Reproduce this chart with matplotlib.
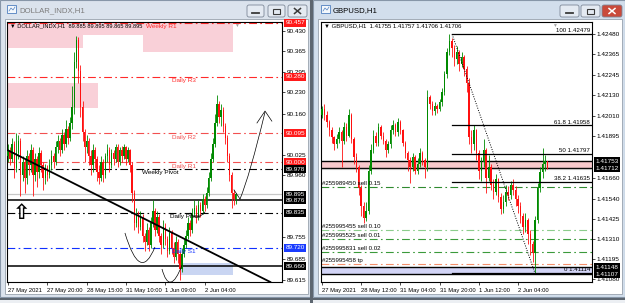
import numpy as np
import matplotlib.pyplot as plt
import matplotlib.transforms as mtrans
from matplotlib.patches import Rectangle, FancyBboxPatch, PathPatch
from matplotlib.path import Path

plt.rcParams['font.family'] = ['Liberation Sans', 'DejaVu Sans']

# ---------------- DOLLAR_INDX, H1 ----------------
usd_first_open = 90.020
usd_close = [90.040, 90.010, 90.060, 89.980, 90.030, 90.070, 89.960, 90.000, 89.950, 90.020,
             89.990, 90.040, 89.960, 90.010, 89.970, 90.030, 89.990, 89.950, 89.980, 89.960,
             89.990, 90.020, 90.000, 90.050, 90.070, 90.040, 90.090, 90.060, 90.110, 90.080,
             90.130, 90.180, 90.330, 90.400, 90.300, 90.180, 90.100, 90.050, 90.070, 90.020,
             89.990, 90.040, 90.010, 89.970, 89.950, 90.000, 89.960, 90.020, 90.040, 89.990,
             90.030, 90.010, 90.050, 90.000, 90.040, 90.020, 90.050, 90.010, 90.040, 89.990,
             89.900, 89.800, 89.830, 89.790, 89.820, 89.760, 89.740, 89.780, 89.730, 89.800,
             89.840, 89.780, 89.820, 89.760, 89.730, 89.790, 89.750, 89.710, 89.770, 89.720,
             89.690, 89.740, 89.700, 89.650, 89.700, 89.730, 89.760, 89.800, 89.780, 89.830,
             89.850, 89.820, 89.860, 89.840, 89.880, 89.860, 89.900, 89.950, 90.010, 90.060,
             90.130, 90.190, 90.150, 90.170, 90.120, 90.080, 90.020, 89.960, 89.900, 89.880, 89.895]
usd_high = [90.060, 90.050, 90.080, 90.070, 90.095, 90.090, 90.080, 90.020, 90.010, 90.040,
            90.030, 90.060, 90.050, 90.030, 90.020, 90.050, 90.040, 90.000, 89.995, 89.990,
            90.010, 90.040, 90.030, 90.070, 90.090, 90.080, 90.110, 90.100, 90.140, 90.120,
            90.150, 90.250, 90.360, 90.414, 90.410, 90.320, 90.200, 90.110, 90.090, 90.080,
            90.040, 90.060, 90.050, 90.020, 89.990, 90.020, 90.010, 90.030, 90.060, 90.050,
            90.045, 90.040, 90.060, 90.060, 90.050, 90.055, 90.060, 90.055, 90.050, 90.045,
            90.000, 89.910, 89.850, 89.840, 89.840, 89.830, 89.770, 89.800, 89.790, 89.820,
            89.876, 89.850, 89.840, 89.830, 89.770, 89.810, 89.800, 89.760, 89.790, 89.780,
            89.740, 89.760, 89.750, 89.710, 89.720, 89.750, 89.780, 89.820, 89.810, 89.850,
            89.876, 89.860, 89.876, 89.870, 89.895, 89.890, 89.920, 89.970, 90.030, 90.080,
            90.160, 90.220, 90.200, 90.190, 90.180, 90.130, 90.090, 90.030, 89.970, 89.910, 89.900]
usd_low = [90.000, 89.990, 90.000, 89.950, 89.970, 90.010, 89.890, 89.940, 89.900, 89.930,
           89.960, 89.970, 89.890, 89.940, 89.920, 89.950, 89.970, 89.910, 89.930, 89.940,
           89.950, 89.975, 89.980, 89.990, 90.030, 90.020, 90.030, 90.040, 90.050, 90.060,
           90.070, 90.110, 90.160, 90.310, 90.260, 90.150, 90.070, 90.000, 90.030, 89.990,
           89.960, 89.970, 89.980, 89.940, 89.930, 89.940, 89.935, 89.950, 90.000, 89.970,
           89.980, 89.990, 90.000, 89.985, 89.990, 90.000, 90.010, 89.990, 90.000, 89.970,
           89.870, 89.780, 89.790, 89.770, 89.780, 89.740, 89.710, 89.730, 89.710, 89.720,
           89.790, 89.760, 89.770, 89.740, 89.700, 89.720, 89.730, 89.690, 89.700, 89.700,
           89.670, 89.680, 89.670, 89.615, 89.640, 89.690, 89.720, 89.750, 89.760, 89.770,
           89.820, 89.800, 89.810, 89.820, 89.830, 89.840, 89.850, 89.890, 89.940, 90.000,
           90.050, 90.120, 90.130, 90.120, 90.100, 90.060, 90.000, 89.940, 89.850, 89.860, 89.865]
usd_xticks = [0, 19, 38, 57, 76, 95]
usd_xlabels = ['27 May 2021', '27 May 20:00', '28 May 15:00', '31 May 10:00', '1 Jun 09:00', '2 Jun 04:00']
usd_yticks = [90.430, 90.365, 90.295, 90.230, 90.160, 90.025, 89.960, 89.755, 89.685, 89.615]
usd_levels = [90.457, 90.280, 90.095, 90.000, 89.978, 89.835, 89.720]
usd_level_names = ['Weekly R1', 'Daily R3', 'Daily R2', 'Daily R1', 'Weekly Pivot', 'Daily Pivot', 'Daily S1']
usd_level_label_bar = [66.5, 79.2, 79.2, 79.2, 64.7, 78.3, 79.2]
usd_solid_levels = [89.876, 89.660]
usd_bid = 89.895
usd_tags = [90.457, 90.280, 90.095, 90.000, 89.978, 89.895, 89.876, 89.835, 89.720, 89.660]
# zones: (bar from, bar to, price low, price high)
usd_pink_zones = [(-0.5, 108.7, 90.417, 90.461), (-0.5, 36.2, 90.374, 90.417),
                  (65.2, 108.7, 90.361, 90.417), (-0.5, 43.5, 90.178, 90.260)]
usd_blue_zone = (83.1, 108.7, 89.632, 89.671)
usd_trend = [(-0.5, 90.041), (126.6, 89.609)]
usd_header = '\u25bc DOLLAR_INDX,H1  89.885 89.895 89.865 89.895'

# ---------------- GBPUSD, H1 ----------------
gbp_first_open = 1.42020
gbp_close = [1.42050, 1.42020, 1.41980, 1.41930, 1.41890, 1.41850, 1.41880, 1.41920, 1.41870, 1.41950,
             1.41900, 1.42020, 1.41880, 1.41780, 1.41720, 1.41600, 1.41500, 1.41430, 1.41470, 1.41700,
             1.41820, 1.41900, 1.41860, 1.41950, 1.41900, 1.41870, 1.41820, 1.41850, 1.41930, 1.41960,
             1.41920, 1.41980, 1.41930, 1.41860, 1.41800, 1.41760, 1.41720, 1.41780, 1.41700, 1.41740,
             1.41800, 1.41760, 1.41720, 1.42120, 1.42080, 1.42040, 1.42070, 1.42050, 1.42090, 1.42150,
             1.42250, 1.42380, 1.42440, 1.42400, 1.42340, 1.42380, 1.42310, 1.42350, 1.42280, 1.42200,
             1.41890, 1.41850, 1.41930, 1.41800, 1.41700, 1.41750, 1.41820, 1.41660, 1.41720, 1.41620,
             1.41580, 1.41650, 1.41550, 1.41480, 1.41520, 1.41580, 1.41560, 1.41620, 1.41590, 1.41540,
             1.41500, 1.41440, 1.41380, 1.41420, 1.41340, 1.41280, 1.41230, 1.41420, 1.41600, 1.41690,
             1.41740, 1.41755, 1.41706]
gbp_high = [1.42070, 1.42080, 1.42040, 1.41990, 1.41950, 1.41900, 1.41910, 1.41950, 1.41930, 1.41980,
            1.41970, 1.42050, 1.42030, 1.41890, 1.41800, 1.41730, 1.41620, 1.41520, 1.41520, 1.41730,
            1.41850, 1.41930, 1.41920, 1.41970, 1.41960, 1.41920, 1.41880, 1.41870, 1.41960, 1.41990,
            1.41970, 1.42000, 1.41990, 1.41940, 1.41870, 1.41810, 1.41780, 1.41800, 1.41790, 1.41770,
            1.41830, 1.41810, 1.41770, 1.42160, 1.42130, 1.42100, 1.42090, 1.42080, 1.42110, 1.42170,
            1.42270, 1.42400, 1.42479, 1.42460, 1.42420, 1.42410, 1.42390, 1.42380, 1.42360, 1.42300,
            1.42230, 1.41930, 1.41960, 1.41940, 1.41820, 1.41780, 1.41880, 1.41830, 1.41790, 1.41740,
            1.41650, 1.41680, 1.41660, 1.41570, 1.41560, 1.41620, 1.41610, 1.41640, 1.41650, 1.41610,
            1.41560, 1.41520, 1.41460, 1.41460, 1.41430, 1.41360, 1.41300, 1.41440, 1.41630, 1.41720,
            1.41830, 1.41790, 1.41757]
gbp_low = [1.42000, 1.41990, 1.41950, 1.41900, 1.41860, 1.41820, 1.41830, 1.41860, 1.41720, 1.41850,
           1.41870, 1.41890, 1.41860, 1.41740, 1.41690, 1.41560, 1.41440, 1.41400, 1.41410, 1.41450,
           1.41680, 1.41800, 1.41840, 1.41840, 1.41880, 1.41850, 1.41780, 1.41800, 1.41830, 1.41910,
           1.41900, 1.41900, 1.41910, 1.41840, 1.41770, 1.41700, 1.41630, 1.41700, 1.41680, 1.41680,
           1.41720, 1.41730, 1.41660, 1.41700, 1.42050, 1.42020, 1.42020, 1.42030, 1.42040, 1.42070,
           1.42130, 1.42230, 1.42360, 1.42350, 1.42300, 1.42310, 1.42270, 1.42290, 1.42240, 1.42150,
           1.41850, 1.41800, 1.41820, 1.41760, 1.41650, 1.41640, 1.41720, 1.41572, 1.41640, 1.41590,
           1.41540, 1.41560, 1.41520, 1.41450, 1.41460, 1.41500, 1.41530, 1.41540, 1.41560, 1.41500,
           1.41460, 1.41400, 1.41340, 1.41350, 1.41280, 1.41220, 1.41180, 1.41114, 1.41400, 1.41580,
           1.41660, 1.41700, 1.41706]
gbp_xticks = [0, 16, 32, 48, 64, 80]
gbp_xlabels = ['27 May 2021', '28 May 12:00', '31 May 04:00', '31 May 20:00', '1 Jun 12:00', '2 Jun 04:00']
gbp_yticks = [1.42480, 1.42365, 1.42245, 1.42130, 1.42010, 1.41895, 1.41660, 1.41540,
              1.41425, 1.41310, 1.41195, 1.41080]
gbp_fib_high = 1.42479
gbp_fib_low = 1.41114
gbp_fib_ratios = [100, 61.8, 50, 38.2, 0.0]
gbp_fib_start_bar = 53.1
gbp_fib_end_bar = 86.9
gbp_orders = [1.41606, 1.41360, 1.41309, 1.41235, 1.41166]
gbp_order_names = ['#255989450 sell 0.15', '#255995455 sell 0.10', '#255995525 sell 0.01',
                   '#255995831 sell 0.02', '#255995458 tp']
gbp_pink_zone = (1.41712, 1.41753)
gbp_blue_zone = (1.41107, 1.41148)
gbp_bid = 1.41706
gbp_tags = [1.41753, 1.41712, 1.41148, 1.41107]
gbp_header = '\u25bc GBPUSD,H1  1.41755 1.41757 1.41706 1.41706'

W, H = 625, 303
fig = plt.figure(figsize=(6.25, 3.03), dpi=100)

# window chrome, drawn in pixel coordinates
bg = fig.add_axes([0, 0, 1, 1])
bg.set_xlim(0, W)
bg.set_ylim(H, 0)
bg.axis('off')
bg.add_patch(Rectangle((0, 0), W, H, fc='#eceff3', ec='none'))
bg.add_patch(Rectangle((0, 0), 310, 297, fc='#dbe3ed', ec='#8796a8', lw=0.8))
bg.add_patch(Rectangle((313, 0), 312, 297, fc='#d2deec', ec='#8796a8', lw=0.8))
bg.add_patch(Rectangle((310, 0), 3, 303, fc='#5d6670', ec='none'))
bg.add_patch(Rectangle((0, 297.5), W, 2.5, fc='#5d6670', ec='none'))
bg.add_patch(Rectangle((5, 19), 303, 275, fc='white', ec='#97a1ad', lw=0.6))
bg.add_patch(Rectangle((318, 19), 304, 275, fc='white', ec='#97a1ad', lw=0.6))

for x0, tcol, title in [(6, '#7c7c7c', 'DOLLAR_INDX,H1'), (320, 'black', 'GBPUSD,H1')]:
    bg.add_patch(Rectangle((x0 + 1, 5), 9, 8, fc='#f4f8fc', ec='#4f7fbf', lw=0.6))
    bg.plot([x0 + 3, x0 + 5, x0 + 7, x0 + 9], [11, 8, 10, 7], color='#4f7fbf', lw=0.5)
    bg.text(x0 + 13, 10.5, title, fontsize=5.6, color=tcol, va='center', ha='left')

buttons = [(247, 17, '#e4eaf2', 'min'), (268, 17, '#e4eaf2', 'max'), (288, 19, '#e4eaf2', 'close'),
           (560, 19, '#e4eaf2', 'min'), (581, 19, '#e4eaf2', 'max'), (602, 20, '#c94a3b', 'close')]
for bx, bw, fc, kind in buttons:
    bg.add_patch(FancyBboxPatch((bx, 5), bw, 12, boxstyle='round,pad=0,rounding_size=2',
                                fc=fc, ec='#7d8898', lw=0.6))
    cx, cy = bx + bw / 2, 11
    gc = 'white' if fc == '#c94a3b' else '#3a3a3a'
    if kind == 'min':
        bg.plot([cx - 3.5, cx + 3.5], [cy + 1.5, cy + 1.5], color=gc, lw=1.3)
    elif kind == 'max':
        bg.add_patch(Rectangle((cx - 3.5, cy - 2.5), 7, 5, fill=False, ec=gc, lw=0.8))
    else:
        bg.plot([cx - 3, cx + 3], [cy - 2.5, cy + 2.5], color=gc, lw=1.1)
        bg.plot([cx - 3, cx + 3], [cy + 2.5, cy - 2.5], color=gc, lw=1.1)


def px_axes(x0, y0, x1, y1):
    return fig.add_axes([x0 / W, 1 - y1 / H, (x1 - x0) / W, (y1 - y0) / H])


def draw_candles(ax, first_open, close, high, low, width, min_body):
    c = np.array(close)
    o = np.concatenate([[first_open], c[:-1]])
    x = np.arange(len(c))
    cols = np.where(c >= o, '#008a00', '#ff1010')
    ax.vlines(x, low, high, colors=cols, lw=0.6, zorder=3)
    ax.bar(x, np.maximum(np.abs(c - o), min_body), bottom=np.minimum(o, c), width=width,
           color=cols, lw=0, zorder=3)


def setup_axes(ax, xlim, ylim, xticks, xlabels, yticks, fmt):
    ax.set_xlim(*xlim)
    ax.set_ylim(*ylim)
    for s in ax.spines.values():
        s.set_color('black')
        s.set_linewidth(0.8)
    ax.yaxis.tick_right()
    ax.set_yticks(yticks)
    ax.set_yticklabels([fmt.format(v) for v in yticks])
    ax.set_xticks(xticks)
    ax.set_xticklabels(xlabels)
    ax.tick_params(axis='y', labelsize=4.6, length=2, width=0.5, pad=1.5)
    ax.tick_params(axis='x', labelsize=4.2, length=2.5, width=0.5, pad=1.5)
    for lbl in ax.get_xticklabels():
        lbl.set_ha('left')


def price_tag(ax, price, text, fc):
    tr = mtrans.blended_transform_factory(ax.transAxes, ax.transData)
    ax.text(1.012, price, text, transform=tr, fontsize=4.6, color='white', va='center', ha='left',
            zorder=20, clip_on=False,
            bbox=dict(boxstyle='square,pad=0.22', fc=fc, ec='none'))


def smooth(ax, p0, p1, p2, **kw):
    ctrl = (2 * p1[0] - (p0[0] + p2[0]) / 2, 2 * p1[1] - (p0[1] + p2[1]) / 2)
    path = Path([p0, ctrl, p2], [Path.MOVETO, Path.CURVE3, Path.CURVE3])
    ax.add_patch(PathPatch(path, fill=False, **kw))


dashdot = (0, (7, 3, 1.5, 3))

# ---------------- left chart ----------------
axL = px_axes(7, 22, 282, 282)
setup_axes(axL, (-0.5, 132.4), (89.6085, 90.4595), usd_xticks, usd_xlabels, usd_yticks, '{:.3f}')

for b0, b1, p0, p1 in usd_pink_zones:
    axL.add_patch(Rectangle((b0, p0), b1 - b0, p1 - p0, fc='#f9d0d8', ec='none', zorder=1))
b0, b1, p0, p1 = usd_blue_zone
axL.add_patch(Rectangle((b0, p0), b1 - b0, p1 - p0, fc='#c9d5f2', ec='none', zorder=1))

level_colors = ['#ff2a2a', '#ff2a2a', '#f25050', '#f25050', 'black', 'black', '#1030ff']
for price, name, bar, col in zip(usd_levels, usd_level_names, usd_level_label_bar, level_colors):
    axL.axhline(price, color=col, lw=0.8, ls=dashdot, zorder=2)
    axL.text(bar, price - 0.004, name, color=col, fontsize=4.6, va='top', ha='left', zorder=6)
axL.axhline(usd_bid, color='#c8c8c8', lw=0.9, zorder=2)
for price in usd_solid_levels:
    axL.axhline(price, color='black', lw=1.1, zorder=2)

draw_candles(axL, usd_first_open, usd_close, usd_high, usd_low, 0.7, 0.002)

axL.axline(usd_trend[0], usd_trend[1], color='black', lw=1.3, zorder=5)

# hand drawn strokes
stroke = dict(ec='black', lw=0.5, zorder=6)
smooth(axL, (56.5, 89.769), (63.8, 89.674), (71.0, 89.723), **stroke)
smooth(axL, (74.4, 89.651), (78.7, 89.608), (84.1, 89.664), **stroke)
smooth(axL, (87.9, 89.835), (91.3, 89.821), (95.2, 89.838), **stroke)
axL.plot([109.2, 112.1], [89.910, 89.880], color='black', lw=0.5, zorder=6)
smooth(axL, (112.1, 89.880), (117.5, 89.990), (124.2, 90.165), **stroke)
axL.plot([120.3, 124.2, 127.5], [90.129, 90.168, 90.135], color='black', lw=0.5, zorder=6)

axL.text(6.8, 89.834, '\u21e7', fontsize=15, fontweight='bold', family='DejaVu Sans',
         ha='center', va='center', zorder=6)
axL.text(0.011, 0.985, usd_header, transform=axL.transAxes, fontsize=4.1, va='center', ha='left', zorder=7)
axL.text(0.833, 0.995, '\u25bc', transform=axL.transAxes, fontsize=3.5, color='#a0a0a0',
         va='top', ha='center', zorder=7)

tag_colors_L = ['#ff1a1a', '#ff1a1a', '#ff1a1a', '#ff1a1a', 'black', 'black', 'black', 'black',
                '#1a3cff', 'black']
for price, col in zip(usd_tags, tag_colors_L):
    price_tag(axL, price, '{:.3f}'.format(price), col)

# ---------------- right chart ----------------
axR = px_axes(321, 22, 592, 282)
setup_axes(axR, (-0.4, 110.2), (1.41063, 1.42549), gbp_xticks, gbp_xlabels, gbp_yticks, '{:.5f}')

p0, p1 = gbp_pink_zone
axR.add_patch(Rectangle((-1, p0), 120, p1 - p0, fc='#f7c9cc', ec='none', zorder=1))
p0, p1 = gbp_blue_zone
axR.add_patch(Rectangle((-1, p0), 120, p1 - p0, fc='#d2d4f6', ec='none', zorder=1))
for price in list(gbp_pink_zone) + list(gbp_blue_zone):
    axR.axhline(price, color='black', lw=1.0, zorder=2)
axR.axhline(gbp_bid, color='#c0c0c0', lw=0.8, zorder=2)

order_colors = ['#2f8a2f', '#8ccc8c', '#3b9a3b', '#3b9a3b', '#f4906c']
trR = mtrans.blended_transform_factory(axR.transAxes, axR.transData)
for price, name, col in zip(gbp_orders, gbp_order_names, order_colors):
    axR.axhline(price, color=col, lw=0.8, ls=dashdot, zorder=2)
    axR.text(0.004, price + 0.00005, name, transform=trR, fontsize=4.4, va='bottom', ha='left', zorder=6)

draw_candles(axR, gbp_first_open, gbp_close, gbp_high, gbp_low, 0.6, 0.00003)

for r in gbp_fib_ratios:
    lvl = gbp_fib_low + (gbp_fib_high - gbp_fib_low) * r / 100
    axR.plot([gbp_fib_start_bar, 111], [lvl, lvl], color='black', lw=0.9, zorder=4)
    axR.text(0.993, lvl + 0.00005, '{:g} {:.5f}'.format(r, lvl), transform=trR, fontsize=4.4,
             va='bottom', ha='right', zorder=6)
axR.plot([gbp_fib_start_bar, gbp_fib_end_bar], [gbp_fib_high, gbp_fib_low], color='black',
         lw=0.7, ls=(0, (1, 1.5)), zorder=5)

axR.text(0.011, 0.985, gbp_header, transform=axR.transAxes, fontsize=4.3, va='center', ha='left', zorder=7)
axR.text(0.86, 0.995, '\u25bc', transform=axR.transAxes, fontsize=3.5, color='#a0a0a0',
         va='top', ha='center', zorder=7)

for price in gbp_tags:
    price_tag(axR, price, '{:.5f}'.format(price), 'black')

fig.savefig('out.png', dpi=100)
